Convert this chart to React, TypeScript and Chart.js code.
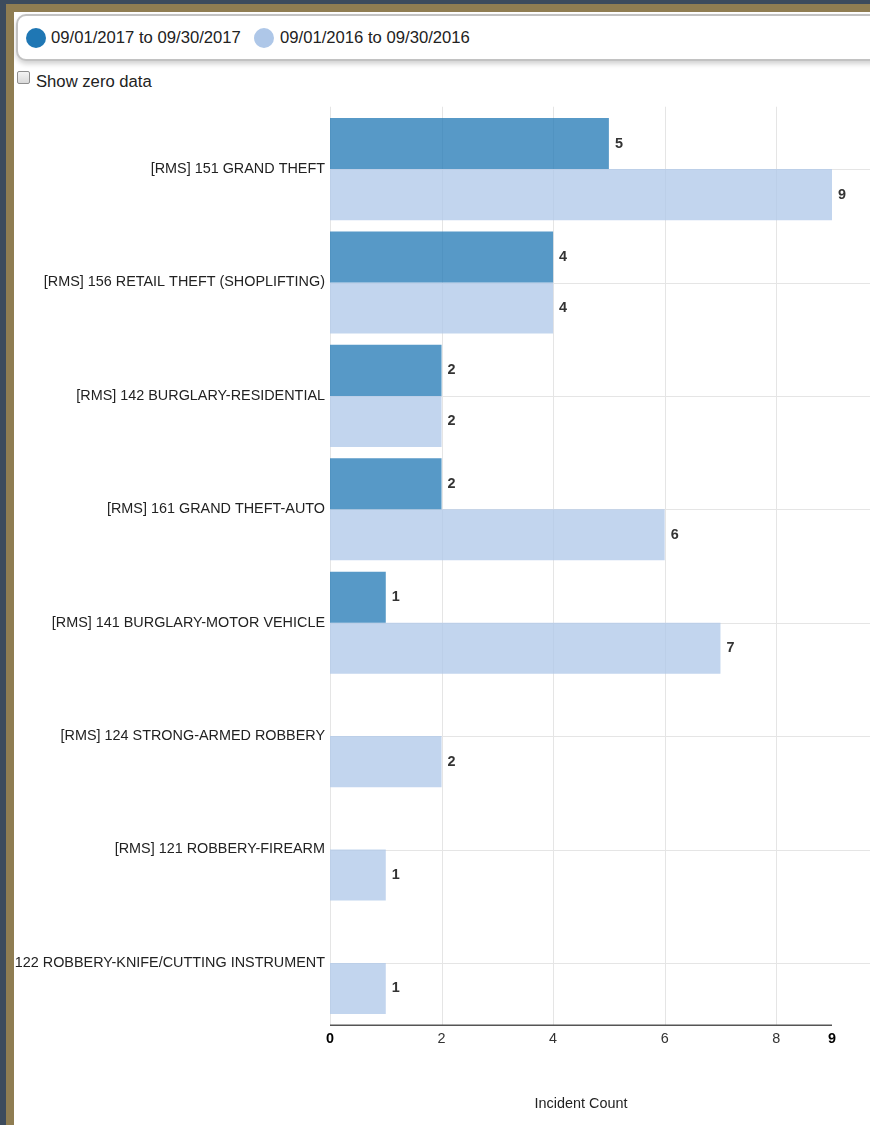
import React, { useEffect, useRef } from 'react';
import { Chart, registerables } from 'chart.js';

Chart.register(...registerables);

// ---------- data ----------
const CATEGORIES = [
  '[RMS] 151 GRAND THEFT',
  '[RMS] 156 RETAIL THEFT (SHOPLIFTING)',
  '[RMS] 142 BURGLARY-RESIDENTIAL',
  '[RMS] 161 GRAND THEFT-AUTO',
  '[RMS] 141 BURGLARY-MOTOR VEHICLE',
  '[RMS] 124 STRONG-ARMED ROBBERY',
  '[RMS] 121 ROBBERY-FIREARM',
  '[RMS] 122 ROBBERY-KNIFE/CUTTING INSTRUMENT',
];
const SERIES_LABELS = ['09/01/2017 to 09/30/2017', '09/01/2016 to 09/30/2016'];
const CURRENT_COUNTS = [5, 4, 2, 2, 1, 0, 0, 0];
const PREVIOUS_COUNTS = [9, 4, 2, 6, 7, 2, 1, 1];
const SERIES_COLORS = ['#1f77b4', '#aec7e8'];
const SERIES_FILLS = ['rgba(31,119,180,0.75)', 'rgba(174,199,232,0.75)'];
const X_TICKS = [0, 2, 4, 6, 8, 9];
const X_MIN = 0;
const X_MAX = 9;
const AXIS_TITLE = 'Incident Count';
const SHOW_ZERO_LABEL = 'Show zero data';

const FONT = "Arial, 'Liberation Sans', sans-serif";
const SERIES_DATA = [CURRENT_COUNTS, PREVIOUS_COUNTS];

const nvPlugin = {
  id: 'nvLook',
  beforeDatasetsDraw(chart: any) {
    const { ctx, chartArea: ca, scales } = chart;
    const x = scales.x;
    const y = scales.y;
    const step = (ca.bottom - ca.top) / CATEGORIES.length;
    const ext = step * 0.05;
    ctx.save();
    ctx.strokeStyle = '#e5e5e5';
    ctx.lineWidth = 1;
    ctx.beginPath();
    y.ticks.forEach((_: any, i: number) => {
      const py = Math.round(y.getPixelForTick(i)) + 0.5;
      ctx.moveTo(ca.left, py);
      ctx.lineTo(chart.width, py);
    });
    X_TICKS.forEach((v) => {
      if (v === X_MAX) return;
      const px = Math.round(x.getPixelForValue(v)) + 0.5;
      ctx.moveTo(px, ca.top - ext);
      ctx.lineTo(px, ca.bottom + ext);
    });
    ctx.stroke();
    ctx.restore();
  },
  afterDatasetsDraw(chart: any) {
    const { ctx, chartArea: ca, scales } = chart;
    const x = scales.x;
    const step = (ca.bottom - ca.top) / CATEGORIES.length;
    const ext = step * 0.05;
    ctx.save();
    // axis line
    ctx.strokeStyle = '#555';
    ctx.lineWidth = 1.3;
    ctx.beginPath();
    const ay = ca.bottom + ext;
    ctx.moveTo(x.getPixelForValue(X_MIN), ay);
    ctx.lineTo(x.getPixelForValue(X_MAX), ay);
    ctx.stroke();
    // value labels
    ctx.font = `bold 14.4px ${FONT}`;
    ctx.fillStyle = '#333';
    ctx.textAlign = 'left';
    ctx.textBaseline = 'middle';
    SERIES_DATA.forEach((data, d) => {
      const meta = chart.getDatasetMeta(d);
      meta.data.forEach((bar: any, i: number) => {
        const v = data[i];
        if (!v) return;
        ctx.fillText(String(v), bar.x + 6, bar.y);
      });
    });
    ctx.restore();
  },
};

function BarChart() {
  const ref = useRef<HTMLCanvasElement | null>(null);
  useEffect(() => {
    if (!ref.current) return;
    const chart = new Chart(ref.current, {
      type: 'bar',
      data: {
        labels: CATEGORIES,
        datasets: SERIES_DATA.map((data, i) => ({
          label: SERIES_LABELS[i],
          data,
          backgroundColor: SERIES_FILLS[i],
          borderWidth: 0,
          categoryPercentage: 0.9,
          barPercentage: 1,
        })),
      },
      options: {
        indexAxis: 'y',
        animation: false,
        responsive: false,
        devicePixelRatio: 1,
        layout: { padding: { top: 12.4, right: 38, bottom: 0, left: 0 } },
        plugins: {
          legend: { display: false },
          tooltip: { enabled: false },
        },
        scales: {
          x: {
            type: 'linear',
            position: 'bottom',
            min: X_MIN,
            max: X_MAX,
            grid: { display: false, drawTicks: false },
            border: { display: false },
            afterBuildTicks: (s: any) => {
              s.ticks = X_TICKS.map((v) => ({ value: v }));
            },
            afterFit: (s: any) => {
              s.height = 105.4;
              s.paddingLeft = 0;
              s.paddingRight = 0;
            },
            ticks: {
              autoSkip: false,
              maxRotation: 0,
              padding: 10.7,
              font: (c: any) => ({
                family: FONT,
                size: 14.4,
                weight: c.tick && (c.tick.value === X_MIN || c.tick.value === X_MAX) ? 'bold' : 'normal',
              }),
              color: (c: any) =>
                c.tick && (c.tick.value === X_MIN || c.tick.value === X_MAX) ? '#000' : '#333',
            },
            title: {
              display: true,
              text: AXIS_TITLE,
              color: '#222',
              font: { family: FONT, size: 14.4 },
              padding: { top: 0, bottom: 12 },
            },
          },
          y: {
            type: 'category',
            grid: { display: false, drawTicks: false },
            border: { display: false },
            afterFit: (s: any) => {
              s.width = 316;
              s.paddingTop = 0;
              s.paddingBottom = 0;
            },
            ticks: {
              autoSkip: false,
              padding: 5,
              color: '#222',
              font: { family: FONT, size: 14.4 },
            },
          },
        },
      } as any,
      plugins: [nvPlugin],
    });
    return () => chart.destroy();
  }, []);
  return (
    <canvas
      ref={ref}
      width={856}
      height={1025}
      style={{ position: 'absolute', left: 14, top: 100, width: 856, height: 1025 }}
    />
  );
}

export default function App() {
  const textStyle: React.CSSProperties = {
    position: 'absolute',
    fontSize: '16.67px',
    lineHeight: '20px',
    color: '#222',
    whiteSpace: 'nowrap',
  };
  return (
    <div
      style={{
        position: 'absolute',
        left: 0,
        top: 0,
        width: 870,
        height: 1125,
        overflow: 'hidden',
        background: '#3c4b5d',
        fontFamily: FONT,
      }}
    >
      <div style={{ position: 'absolute', left: 6, top: 4, right: 0, bottom: 0, background: '#8f7d52' }} />
      <div style={{ position: 'absolute', left: 14, top: 12, right: 0, bottom: 0, background: '#fff' }} />
      <div
        style={{
          position: 'absolute',
          left: 16,
          top: 14,
          width: 900,
          height: 47,
          boxSizing: 'border-box',
          border: '2px solid #c2c2c2',
          borderRadius: 10,
          background: '#fff',
          boxShadow: '0 3px 5px rgba(0,0,0,0.18)',
        }}
      />
      <div style={{ position: 'absolute', left: 25.5, top: 28, width: 20, height: 20, borderRadius: '50%', background: SERIES_COLORS[0] }} />
      <div style={{ ...textStyle, left: 51, top: 28 }}>{SERIES_LABELS[0]}</div>
      <div style={{ position: 'absolute', left: 254, top: 28, width: 20, height: 20, borderRadius: '50%', background: SERIES_COLORS[1] }} />
      <div style={{ ...textStyle, left: 280, top: 28 }}>{SERIES_LABELS[1]}</div>
      <input
        type="checkbox"
        readOnly
        style={{
          position: 'absolute',
          left: 17,
          top: 71,
          width: 13,
          height: 13,
          margin: 0,
          appearance: 'none',
          WebkitAppearance: 'none',
          border: '1px solid #8f8f8f',
          borderRadius: 2,
          background: 'linear-gradient(#f4f4f4, #d9d9d9)',
          boxSizing: 'border-box',
        } as any}
      />
      <div style={{ ...textStyle, left: 36, top: 71.5 }}>{SHOW_ZERO_LABEL}</div>
      <BarChart />
    </div>
  );
}
